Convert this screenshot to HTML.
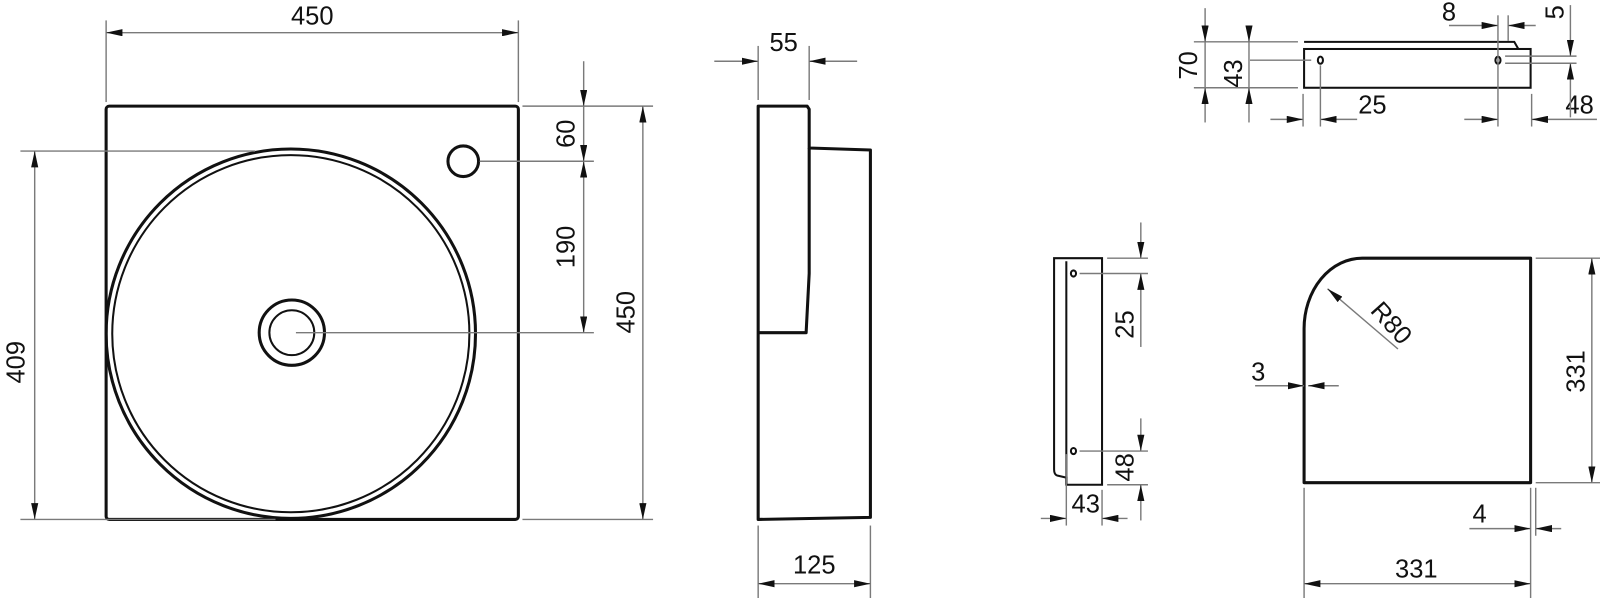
<!DOCTYPE html>
<html><head><meta charset="utf-8"><style>
html,body{margin:0;padding:0;background:#fff;}
svg{display:block;}
text{font-family:"Liberation Sans",Arial,sans-serif;font-size:25px;fill:#111;}
.d{stroke:#7a7a7a;stroke-width:1.4;fill:none;}
.s{stroke:#111;stroke-width:3;fill:none;stroke-linejoin:round;}
.t{stroke:#111;stroke-width:2;fill:none;}
</style></head><body>
<svg width="1600" height="598" viewBox="0 0 1568 586" preserveAspectRatio="none" xmlns="http://www.w3.org/2000/svg">
<defs>
<marker id="a" viewBox="0 0 16 7" refX="16" refY="3.5" markerWidth="16" markerHeight="7" markerUnits="userSpaceOnUse" orient="auto-start-reverse"><path d="M0,0L16,3.5L0,7z" fill="#111"/></marker>
</defs>

<!-- FRONT VIEW -->
<rect x="104" y="104" width="404" height="405" rx="3" class="s"/>
<circle cx="285" cy="327" r="181" class="s"/>
<circle cx="285" cy="327" r="175" class="t"/>
<circle cx="286" cy="326" r="32" class="s"/>
<circle cx="286" cy="326" r="22" class="t"/>
<circle cx="454" cy="158" r="15" class="s"/>
<line x1="104" y1="20" x2="104" y2="100" class="d"/>
<line x1="508" y1="20" x2="508" y2="100" class="d"/>
<line x1="104" y1="32" x2="508" y2="32" class="d" marker-start="url(#a)" marker-end="url(#a)"/>
<text x="306" y="24" text-anchor="middle">450</text>
<line x1="20" y1="148" x2="250" y2="148" class="d"/>
<line x1="20" y1="509" x2="270" y2="509" class="d"/>
<line x1="34" y1="148" x2="34" y2="509" class="d" marker-start="url(#a)" marker-end="url(#a)"/>
<text transform="translate(24,355) rotate(-90)" text-anchor="middle">409</text>
<line x1="512" y1="104" x2="640" y2="104" class="d"/>
<line x1="512" y1="509" x2="640" y2="509" class="d"/>
<line x1="630" y1="104" x2="630" y2="509" class="d" marker-start="url(#a)" marker-end="url(#a)"/>
<text transform="translate(622,306) rotate(-90)" text-anchor="middle">450</text>
<line x1="470" y1="158" x2="582" y2="158" class="d"/>
<line x1="290" y1="326" x2="582" y2="326" class="d"/>
<line x1="572" y1="60" x2="572" y2="104" class="d" marker-end="url(#a)"/>
<line x1="572" y1="104" x2="572" y2="158" class="d" marker-end="url(#a)"/>
<line x1="572" y1="158" x2="572" y2="326" class="d" marker-start="url(#a)" marker-end="url(#a)"/>
<text transform="translate(563,131) rotate(-90)" text-anchor="middle">60</text>
<text transform="translate(563,242) rotate(-90)" text-anchor="middle">190</text>

<!-- SIDE VIEW -->
<path d="M743,104 L791,104 L793,107 L793,145 L853,147 L853,507 L743,509 Z" class="s"/>
<path d="M743,326 L790,326 L793,268 L793,145" class="s"/>
<line x1="743" y1="45" x2="743" y2="98" class="d"/>
<line x1="793" y1="45" x2="793" y2="98" class="d"/>
<line x1="700" y1="60" x2="743" y2="60" class="d" marker-end="url(#a)"/>
<line x1="840" y1="60" x2="793" y2="60" class="d" marker-end="url(#a)"/>
<text x="768" y="50" text-anchor="middle">55</text>
<line x1="743" y1="515" x2="743" y2="586" class="d"/>
<line x1="853" y1="515" x2="853" y2="586" class="d"/>
<line x1="743" y1="572" x2="853" y2="572" class="d" marker-start="url(#a)" marker-end="url(#a)"/>
<text x="798" y="562" text-anchor="middle">125</text>

<!-- TOP-RIGHT BRACKET -->
<path d="M1278,41 L1484,41 L1488,48 L1278,48" class="t"/>
<rect x="1278" y="48" width="222" height="38" class="t"/>
<ellipse cx="1294" cy="59" rx="2.5" ry="3.5" class="t" stroke-width="1.5"/>
<ellipse cx="1468" cy="59" rx="2.5" ry="3.5" class="t" stroke-width="1.5"/>
<line x1="1170" y1="41" x2="1272" y2="41" class="d"/>
<line x1="1170" y1="86" x2="1272" y2="86" class="d"/>
<line x1="1225" y1="59" x2="1285" y2="59" class="d"/>
<line x1="1181" y1="8" x2="1181" y2="41" class="d" marker-end="url(#a)"/>
<line x1="1181" y1="41" x2="1181" y2="86" class="d"/>
<line x1="1181" y1="120" x2="1181" y2="86" class="d" marker-end="url(#a)"/>
<text transform="translate(1173,64) rotate(-90)" text-anchor="middle">70</text>
<line x1="1224" y1="28" x2="1224" y2="41" class="d" marker-end="url(#a)"/>
<line x1="1224" y1="41" x2="1224" y2="86" class="d"/>
<line x1="1224" y1="120" x2="1224" y2="86" class="d" marker-end="url(#a)"/>
<text transform="translate(1217,72) rotate(-90)" text-anchor="middle">43</text>
<line x1="1277" y1="92" x2="1277" y2="124" class="d"/>
<line x1="1294" y1="64" x2="1294" y2="124" class="d"/>
<line x1="1245" y1="117" x2="1277" y2="117" class="d" marker-end="url(#a)"/>
<line x1="1330" y1="117" x2="1294" y2="117" class="d" marker-end="url(#a)"/>
<text x="1345" y="111" text-anchor="middle">25</text>
<line x1="1468" y1="15" x2="1468" y2="124" class="d"/>
<line x1="1478" y1="15" x2="1478" y2="40" class="d"/>
<line x1="1501" y1="92" x2="1501" y2="124" class="d"/>
<line x1="1435" y1="117" x2="1468" y2="117" class="d" marker-end="url(#a)"/>
<line x1="1565" y1="117" x2="1501" y2="117" class="d" marker-end="url(#a)"/>
<text x="1548" y="111" text-anchor="middle">48</text>
<line x1="1420" y1="25" x2="1468" y2="25" class="d" marker-end="url(#a)"/>
<line x1="1505" y1="25" x2="1478" y2="25" class="d" marker-end="url(#a)"/>
<text x="1420" y="20" text-anchor="middle">8</text>
<line x1="1475" y1="55" x2="1545" y2="55" class="d"/>
<line x1="1475" y1="62" x2="1545" y2="62" class="d"/>
<line x1="1539" y1="5" x2="1539" y2="55" class="d" marker-end="url(#a)"/>
<line x1="1539" y1="115" x2="1539" y2="62" class="d" marker-end="url(#a)"/>
<text transform="translate(1532,12) rotate(-90)" text-anchor="middle">5</text>

<!-- MIDDLE SMALL SIDE VIEW -->
<path d="M1045,468 L1036,466 Q1033,465 1033,460 L1033,253 L1080,253 L1080,475 L1045,475 Z" class="t"/>
<line x1="1045" y1="256" x2="1045" y2="475" class="t"/>
<ellipse cx="1052" cy="268" rx="2.5" ry="3" class="t" stroke-width="1.5"/>
<ellipse cx="1052" cy="442" rx="2.5" ry="3" class="t" stroke-width="1.5"/>
<line x1="1085" y1="253" x2="1125" y2="253" class="d"/>
<line x1="1058" y1="268" x2="1125" y2="268" class="d"/>
<line x1="1058" y1="442" x2="1125" y2="442" class="d"/>
<line x1="1085" y1="475" x2="1125" y2="475" class="d"/>
<line x1="1118" y1="218" x2="1118" y2="253" class="d" marker-end="url(#a)"/>
<line x1="1118" y1="340" x2="1118" y2="268" class="d" marker-end="url(#a)"/>
<line x1="1118" y1="410" x2="1118" y2="442" class="d" marker-end="url(#a)"/>
<line x1="1118" y1="510" x2="1118" y2="475" class="d" marker-end="url(#a)"/>
<text transform="translate(1111,318) rotate(-90)" text-anchor="middle">25</text>
<text transform="translate(1111,458) rotate(-90)" text-anchor="middle">48</text>
<line x1="1045" y1="445" x2="1045" y2="515" class="d"/>
<line x1="1080" y1="480" x2="1080" y2="515" class="d"/>
<line x1="1020" y1="508" x2="1045" y2="508" class="d" marker-end="url(#a)"/>
<line x1="1105" y1="508" x2="1080" y2="508" class="d" marker-end="url(#a)"/>
<text x="1064" y="502" text-anchor="middle">43</text>

<!-- PROFILE R80 -->
<path d="M1278,473 L1278,322 A57,69 0 0 1 1335,253 L1500,253 L1500,473 Z" class="s"/>
<line x1="1301" y1="283" x2="1370" y2="342" class="d" marker-start="url(#a)"/>
<text transform="translate(1342,305) rotate(48)">R80</text>
<line x1="1230" y1="378" x2="1278" y2="378" class="d" marker-end="url(#a)"/>
<line x1="1312" y1="378" x2="1282" y2="378" class="d" marker-end="url(#a)"/>
<text x="1233" y="373" text-anchor="middle">3</text>
<line x1="1505" y1="253" x2="1568" y2="253" class="d"/>
<line x1="1505" y1="473" x2="1568" y2="473" class="d"/>
<line x1="1560" y1="253" x2="1560" y2="473" class="d" marker-start="url(#a)" marker-end="url(#a)"/>
<text transform="translate(1553,364) rotate(-90)" text-anchor="middle">331</text>
<line x1="1278" y1="478" x2="1278" y2="586" class="d"/>
<line x1="1500" y1="478" x2="1500" y2="586" class="d"/>
<line x1="1505" y1="478" x2="1505" y2="525" class="d"/>
<line x1="1278" y1="572" x2="1500" y2="572" class="d" marker-start="url(#a)" marker-end="url(#a)"/>
<text x="1388" y="566" text-anchor="middle">331</text>
<line x1="1440" y1="518" x2="1500" y2="518" class="d" marker-end="url(#a)"/>
<line x1="1530" y1="518" x2="1505" y2="518" class="d" marker-end="url(#a)"/>
<text x="1450" y="512" text-anchor="middle">4</text>
</svg>
</body></html>
